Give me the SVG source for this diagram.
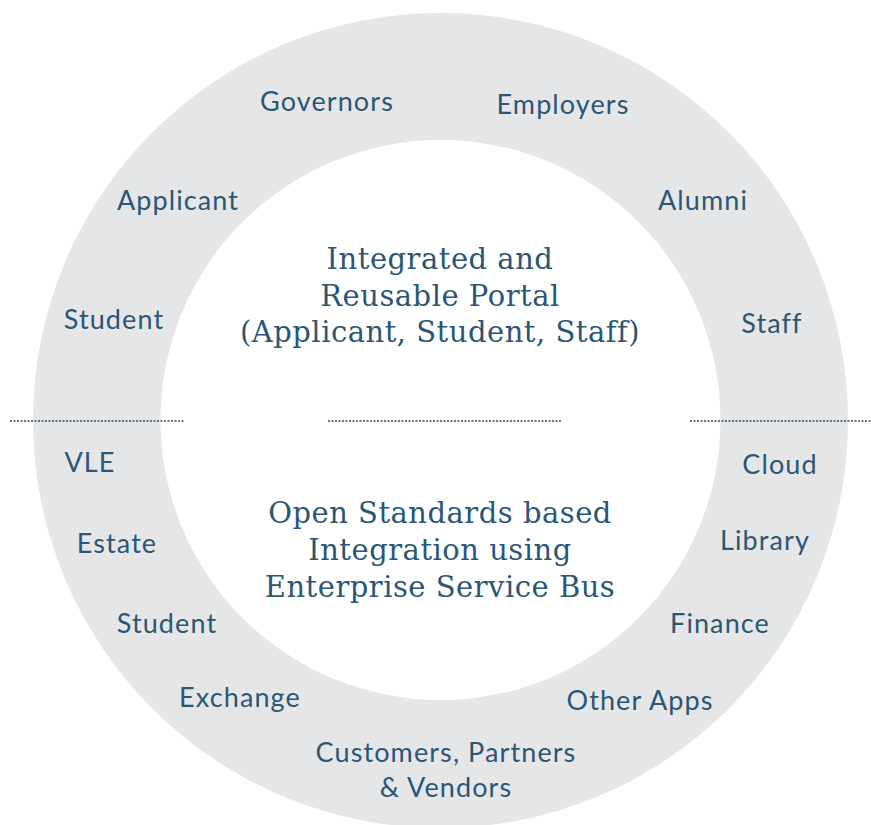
<svg xmlns="http://www.w3.org/2000/svg" width="871" height="825" viewBox="0 0 871 825">
<style>
.lbl{font-family:Lato,"Liberation Sans",sans-serif;font-weight:400;font-size:27px;letter-spacing:1.1px;fill:#2b5676;text-anchor:middle}
.ctr{font-family:"DejaVu Serif","Liberation Serif",serif;font-size:29px;letter-spacing:0.5px;fill:#2b5676;text-anchor:middle}
.dot{stroke:#2b4a63;stroke-width:1.5;stroke-dasharray:2,1.5;fill:none}
</style>
<g id="ring">
<path d="M440.5,13 A407.5,407.5 0 1 0 440.5,828 A407.5,407.5 0 1 0 440.5,13 Z M440.5,140 A280,280 0 1 1 440.5,700 A280,280 0 1 1 440.5,140 Z" fill="#e5e6e8" fill-rule="evenodd"/>
</g>
<g id="connectors">
<line class="dot" x1="10" y1="421" x2="185" y2="421"/>
<line class="dot" x1="328" y1="421" x2="562" y2="421"/>
<line class="dot" x1="690" y1="421" x2="871" y2="421"/>
</g>
<g id="portal"><text class="ctr" x="440" y="269">Integrated and</text><text class="ctr" x="440" y="306">Reusable Portal</text><text class="ctr" x="440" y="342">(Applicant, Student, Staff)</text></g>
<g id="esb"><text class="ctr" x="440" y="523">Open Standards based</text><text class="ctr" x="440" y="560">Integration using</text><text class="ctr" x="440" y="597">Enterprise Service Bus</text></g>
<g id="governors"><text class="lbl" x="327" y="111">Governors</text></g>
<g id="employers"><text class="lbl" x="563" y="114">Employers</text></g>
<g id="applicant"><text class="lbl" x="178" y="210">Applicant</text></g>
<g id="alumni"><text class="lbl" x="703" y="210">Alumni</text></g>
<g id="student1"><text class="lbl" x="114" y="329">Student</text></g>
<g id="staff"><text class="lbl" x="772" y="333">Staff</text></g>
<g id="vle"><text class="lbl" x="90" y="472">VLE</text></g>
<g id="cloud"><text class="lbl" x="780" y="474">Cloud</text></g>
<g id="estate"><text class="lbl" x="117" y="553">Estate</text></g>
<g id="library"><text class="lbl" x="765" y="550">Library</text></g>
<g id="student2"><text class="lbl" x="167" y="633">Student</text></g>
<g id="finance"><text class="lbl" x="720" y="633">Finance</text></g>
<g id="exchange"><text class="lbl" x="240" y="707">Exchange</text></g>
<g id="otherapps"><text class="lbl" x="640" y="710">Other Apps</text></g>
<g id="customers"><text class="lbl" x="446" y="762">Customers, Partners</text><text class="lbl" x="446" y="797">&amp; Vendors</text></g>
</svg>
